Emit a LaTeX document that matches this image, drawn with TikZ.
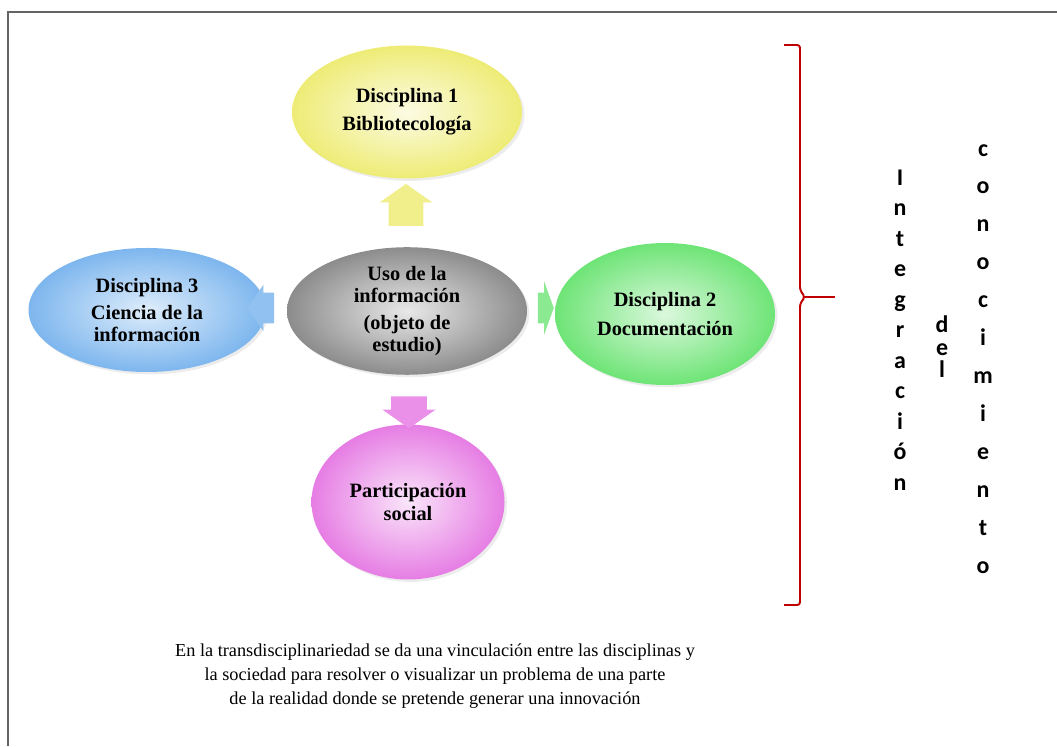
\documentclass[tikz,border=0pt]{standalone}
\usepackage{fontspec}
\setmainfont{Liberation Serif}
\newfontfamily\calibri{Carlito}
\usetikzlibrary{shapes.geometric,shapes.arrows,shadows}

\definecolor{amarillo}{RGB}{238,236,118}
\definecolor{gris}{RGB}{140,140,140}
\definecolor{azul}{RGB}{125,182,238}
\definecolor{verde}{RGB}{110,228,118}
\definecolor{rosa}{RGB}{230,125,228}
\definecolor{rojo}{RGB}{192,0,0}
\definecolor{marco}{RGB}{100,100,100}

\begin{document}
\begin{tikzpicture}[
   disc/.style={ellipse, inner sep=0pt, align=center,
      font=\fontsize{14.5}{16}\selectfont\bfseries,
      drop shadow={opacity=0.15,shadow xshift=0.6mm,shadow yshift=-0.6mm}},
   flecha/.style={single arrow, inner xsep=0pt, single arrow tip angle=110},
   vert/.style={align=center, font=\calibri\fontsize{17}{#1}\selectfont\bfseries}
]
   \useasboundingbox (0,0) rectangle (26.425,18.65);
   % marco
   \draw[marco, line width=1.2pt] (0.2,0) -- (0.2,18.35) -- (26.425,18.35);

   % elipses
   \node[disc, minimum width=6cm, minimum height=3.175cm,
         inner color=gris!20, outer color=gris] (uso) at (10.175,10.875)
        {Uso de la\\información\\[3pt](objeto de\\estudio)};
   \node[disc, minimum width=5.75cm, minimum height=3.325cm,
         inner color=amarillo!20, outer color=amarillo] (d1) at (10.175,15.85)
        {Disciplina 1\\[4pt]Bibliotecología};
   \node[disc, minimum width=5.925cm, minimum height=3.1cm,
         inner color=azul!25, outer color=azul] (d3) at (3.675,10.9)
        {Disciplina 3\\[3pt]Ciencia de la\\información};
   \node[disc, minimum width=5.5cm, minimum height=3.55cm,
         inner color=verde!25, outer color=verde] (d2) at (16.625,10.8)
        {Disciplina 2\\[5pt]Documentación};
   \node[disc, minimum width=4.825cm, minimum height=3.875cm,
         inner color=rosa!20, outer color=rosa] (ps) at (10.2,6.1)
        {Participación\\social};

   % flechas
   \node[flecha, rotate=90, fill=amarillo!85, inner ysep=0.425cm,
         single arrow head extend=0.225cm, minimum height=1.05cm] (fa) at (10.15,13.375) {};
   \node[flecha, rotate=180, fill=azul!85, inner ysep=0.375cm,
         single arrow head extend=0.2cm, minimum height=0.675cm] (fb) at (6.65,10.95) {};
   \node[flecha, fill=verde!80, inner ysep=0.375cm, single arrow tip angle=140,
         single arrow head extend=0.275cm, minimum height=0.4cm] (fc) at (13.575,10.95) {};
   \node[flecha, rotate=-90, fill=rosa!85, inner ysep=0.44cm,
         single arrow head extend=0.22cm, minimum height=0.8cm] (fd) at (10.225,8.5) {};

   % llave
   \draw[rojo, line width=1.4pt, rounded corners=2pt]
      (19.6,17.525) -- (20,17.525) -- (20,11.4) -- (20.12,11.225) -- (20,11.05)
      -- (20,3.525) -- (19.6,3.525);
   \draw[rojo, line width=1.4pt] (20.1,11.225) -- (20.875,11.225);

   % texto vertical
   \node[vert=21.7] (integ) at (22.5,10.4) {I\\n\\t\\e\\g\\r\\a\\c\\i\\ó\\n};
   \node[vert=16] (del) at (23.55,9.975) {d\\e\\l};
   \node[vert=27] (cono) at (24.575,9.675) {c\\o\\n\\o\\c\\i\\m\\i\\e\\n\\t\\o};

   % texto inferior
   \node[align=center, font=\fontsize{13}{17}\selectfont] (nota) at (10.875,1.75)
      {En la transdisciplinariedad se da una vinculación entre las disciplinas y\\
       la sociedad para resolver o visualizar un problema de una parte\\
       de la realidad donde se pretende generar una innovación};
\end{tikzpicture}
\end{document}
